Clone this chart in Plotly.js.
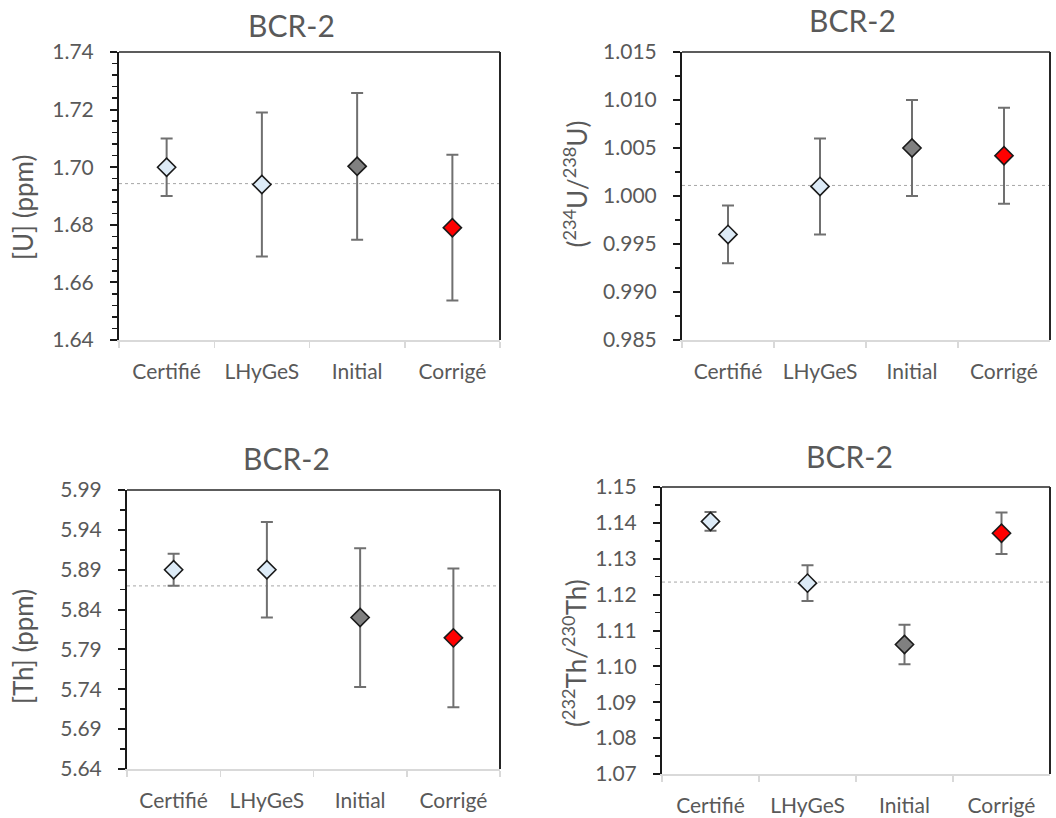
<!DOCTYPE html>
<html><head><meta charset="utf-8">
<script src="https://cdn.plot.ly/plotly-3.0.1.min.js"></script>
<style>html,body{margin:0;padding:0;background:#fff}</style>
</head><body><div id="chart" style="width:1056px;height:818px"></div>
<script>
const categories = ["Certifié", "LHyGeS", "Initial", "Corrigé"];
const panelTitles = ["BCR-2", "BCR-2", "BCR-2", "BCR-2"];
const yTitles = ["[U] (ppm)", "(<sup>234</sup>U/<sup>238</sup>U)", "[Th] (ppm)", "(<sup>232</sup>Th/<sup>230</sup>Th)"];
const uConc = [1.700, 1.694, 1.7003, 1.679];
const uConcErr = [0.010, 0.025, 0.0255, 0.0253];
const uRatio = [0.996, 1.001, 1.005, 1.0042];
const uRatioErr = [0.003, 0.005, 0.005, 0.005];
const thConc = [5.890, 5.890, 5.830, 5.8045];
const thConcErr = [0.020, 0.060, 0.087, 0.087];
const thRatio = [1.1404, 1.1232, 1.1061, 1.1371];
const thRatioErr = [0.0026, 0.005, 0.0055, 0.0058];
const refLines = [1.6943, 1.0011, 5.8697, 1.1235];
const yRanges = [[1.64, 1.74], [0.985, 1.015], [5.64, 5.99], [1.07, 1.15]];
const yDticks = [0.02, 0.005, 0.05, 0.01];
const yMinorDticks = [0.004, 0.0025, 0.025, 0.005];
const yFormats = [".2f", ".3f", ".2f", ".2f"];
const markerColors = ["#DDEBF7", "#DDEBF7", "#808080", "#FF0000"];

const values = [uConc, uRatio, thConc, thRatio];
const errors = [uConcErr, uRatioErr, thConcErr, thRatioErr];

// layout geometry (pixels)
const W = 1056, H = 818;
const plotBoxes = [
  {l: 119, r: 500, t: 52, b: 340},
  {l: 682, r: 1050, t: 52, b: 340},
  {l: 127, r: 500, t: 490, b: 769},
  {l: 662, r: 1050, t: 487, b: 774}
];
const titlePos = [[291, 25], [852, 20], [286, 458], [849, 456]];
const yTitlePos = [[22.5, 207.5], [575.5, 184], [22.5, 646.5], [574, 653]];

const FONT = "Lato, 'Open Sans', sans-serif";
const TXT = "#595959";

const traces = [];
const layout = {
  width: W, height: H,
  margin: {l: 0, r: 0, t: 0, b: 0},
  paper_bgcolor: "#fff", plot_bgcolor: "#fff",
  showlegend: false,
  font: {family: FONT, color: TXT, size: 21},
  shapes: [], annotations: []
};

for (let i = 0; i < 4; i++) {
  const n = i === 0 ? "" : String(i + 1);
  const xa = "x" + n, ya = "y" + n;
  const box = plotBoxes[i];
  traces.push({
    type: "scatter", mode: "markers",
    x: categories, y: values[i],
    xaxis: xa, yaxis: ya,
    error_y: {type: "data", array: errors[i], visible: true, color: "#707070", thickness: 2, width: 6},
    marker: {symbol: "diamond", size: 14, color: markerColors, line: {color: "#1a1a1a", width: 1.6}},
    hoverinfo: "x+y"
  });
  layout["xaxis" + n] = {
    domain: [box.l / W, box.r / W],
    anchor: ya,
    type: "category", range: [-0.5, 3.5],
    showline: true, linecolor: "#d9d9d9", linewidth: 1.5,
    ticks: "outside", tickson: "boundaries", ticklen: 6, tickwidth: 1.5, tickcolor: "#d9d9d9",
    showgrid: false, zeroline: false,
    tickfont: {family: FONT, size: 21, color: TXT},
    ticklabelstandoff: 12,
    fixedrange: true
  };
  layout["yaxis" + n] = {
    domain: [1 - box.b / H, 1 - box.t / H],
    anchor: xa,
    range: yRanges[i],
    tick0: yRanges[i][0], dtick: yDticks[i], tickformat: yFormats[i],
    showline: true, linecolor: "#1a1a1a", linewidth: 2,
    ticks: "outside", ticklen: 7, tickwidth: 2, tickcolor: "#1a1a1a",
    minor: {ticks: "outside", ticklen: 5, tickwidth: 1.5, tickcolor: "#1a1a1a", dtick: yMinorDticks[i], tick0: yRanges[i][0], showgrid: false},
    showgrid: false, zeroline: false,
    tickfont: {family: FONT, size: 21, color: TXT},
    ticklabelstandoff: 12,
    fixedrange: true
  };
  const xd = xa + " domain", yd = ya + " domain";
  layout.shapes.push(
    {type: "line", xref: xd, yref: ya, x0: 0, x1: 1, y0: refLines[i], y1: refLines[i], layer: "below",
     line: {color: "#a6a6a6", width: 1, dash: "dot"}},
    {type: "line", xref: xd, yref: yd, x0: 0, x1: 1, y0: 1, y1: 1, line: {color: "#262626", width: 1.5}},
    {type: "line", xref: xd, yref: yd, x0: 1, x1: 1, y0: 0, y1: 1, line: {color: "#262626", width: 2}}
  );
  layout.annotations.push(
    {text: panelTitles[i], xref: "paper", yref: "paper", x: titlePos[i][0] / W, y: 1 - titlePos[i][1] / H,
     xanchor: "center", yanchor: "middle", showarrow: false, font: {family: FONT, size: 30, color: TXT}},
    {text: yTitles[i], xref: "paper", yref: "paper", x: yTitlePos[i][0] / W, y: 1 - yTitlePos[i][1] / H,
     xanchor: "center", yanchor: "middle", textangle: -90, showarrow: false, font: {family: FONT, size: 26, color: TXT}}
  );
}

Plotly.newPlot("chart", traces, layout, {displayModeBar: false, staticPlot: true});
</script>
</body></html>
